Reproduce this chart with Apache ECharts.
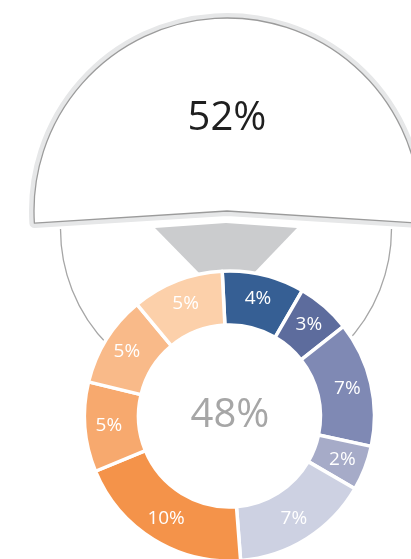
<!DOCTYPE html>
<html lang="en">
<head>
    <meta charset="UTF-8">
    <title>Share donut</title>
    <style>
        html, body { margin: 0; padding: 0; background: #fff; }
        #chart { width: 411px; height: 559px; }
    </style>
</head>
<body>
    <div id="chart"></div>
    <script src="https://cdn.jsdelivr.net/npm/echarts@6/dist/echarts.min.js"></script>
    <script>
        // segment values (labels are rounded)
        var segNames = ['a', 'b', 'c', 'd', 'e', 'f', 'g', 'h', 'i'];
        var segValues = [4.4, 2.9, 6.7, 2.4, 7.4, 9.6, 4.8, 4.9, 4.9];
        var segColors = ['#365F94', '#5D6C9D', '#7F89B4', '#A6ABC8', '#CDD1E2',
                         '#F4934A', '#F7A96E', '#F9BA89', '#FCD0AA'];

        var ringTotal = Math.round(segValues.reduce(function (s, v) { return s + v; }, 0));
        var bubbleValues = [100 - ringTotal, ringTotal];

        var font = 'Open Sans';
        var chart = echarts.init(document.getElementById('chart'));

        var ringData = segValues.map(function (v, i) {
            return { name: segNames[i], value: v, itemStyle: { color: segColors[i] } };
        });

        // bubble slice: the shown part is symmetric around 12 o'clock
        var bubbleStart = 90 + bubbleValues[0] / 100 * 360 / 2;
        function bubbleData(style) {
            return [
                { value: bubbleValues[0], itemStyle: style },
                { value: bubbleValues[1], itemStyle: { color: 'transparent', borderWidth: 0 } }
            ];
        }

        var option = {
            animation: false,
            graphic: [
                {   // thin connector arc
                    type: 'arc',
                    shape: { cx: 226, cy: 229, r: 165.5, startAngle: 0, endAngle: Math.PI },
                    style: { stroke: '#A6A6A6', lineWidth: 1.3, fill: null }
                },
                {   // funnel
                    type: 'polygon',
                    shape: { points: [[155, 228], [226, 223], [297, 228], [250, 277], [203, 277]] },
                    style: { fill: '#CBCCCE' }
                },
                {   // hides the arc behind the ring
                    type: 'circle',
                    shape: { cx: 229.5, cy: 416, r: 145 },
                    style: { fill: '#fff' }
                },
                {
                    type: 'text', z: 100,
                    x: 227, y: 119,
                    style: {
                        text: bubbleValues[0] + '%',
                        fontFamily: font, fontSize: 40,
                        fill: '#1F1F1F',
                        align: 'center', verticalAlign: 'middle'
                    }
                },
                {
                    type: 'text', z: 100,
                    x: 230, y: 416,
                    style: {
                        text: ringTotal + '%',
                        fontFamily: font, fontSize: 40,
                        fill: '#A6A6A6',
                        align: 'center', verticalAlign: 'middle'
                    }
                }
            ],
            series: [
                {
                    type: 'pie', silent: true,
                    center: [227, 211], radius: [0, 193],
                    startAngle: bubbleStart,
                    label: { show: false }, labelLine: { show: false },
                    data: bubbleData({ color: '#fff', borderColor: '#E6E7E8', borderWidth: 10 })
                },
                {
                    type: 'pie', silent: true,
                    center: [227, 211], radius: [0, 193],
                    startAngle: bubbleStart,
                    label: { show: false }, labelLine: { show: false },
                    data: bubbleData({ color: '#fff', borderColor: '#9B9B9B', borderWidth: 1.3 })
                },
                {
                    type: 'pie', silent: true,
                    center: [229.5, 416], radius: [91, 145],
                    startAngle: 92.9,
                    avoidLabelOverlap: false,
                    itemStyle: { borderColor: '#fff', borderWidth: 3.5 },
                    labelLine: { show: false },
                    label: {
                        position: 'inside',
                        fontFamily: font, fontSize: 19,
                        color: '#fff',
                        formatter: function (p) { return Math.round(p.value) + '%'; }
                    },
                    data: ringData
                }
            ]
        };
        chart.setOption(option);
    </script>
</body>
</html>
